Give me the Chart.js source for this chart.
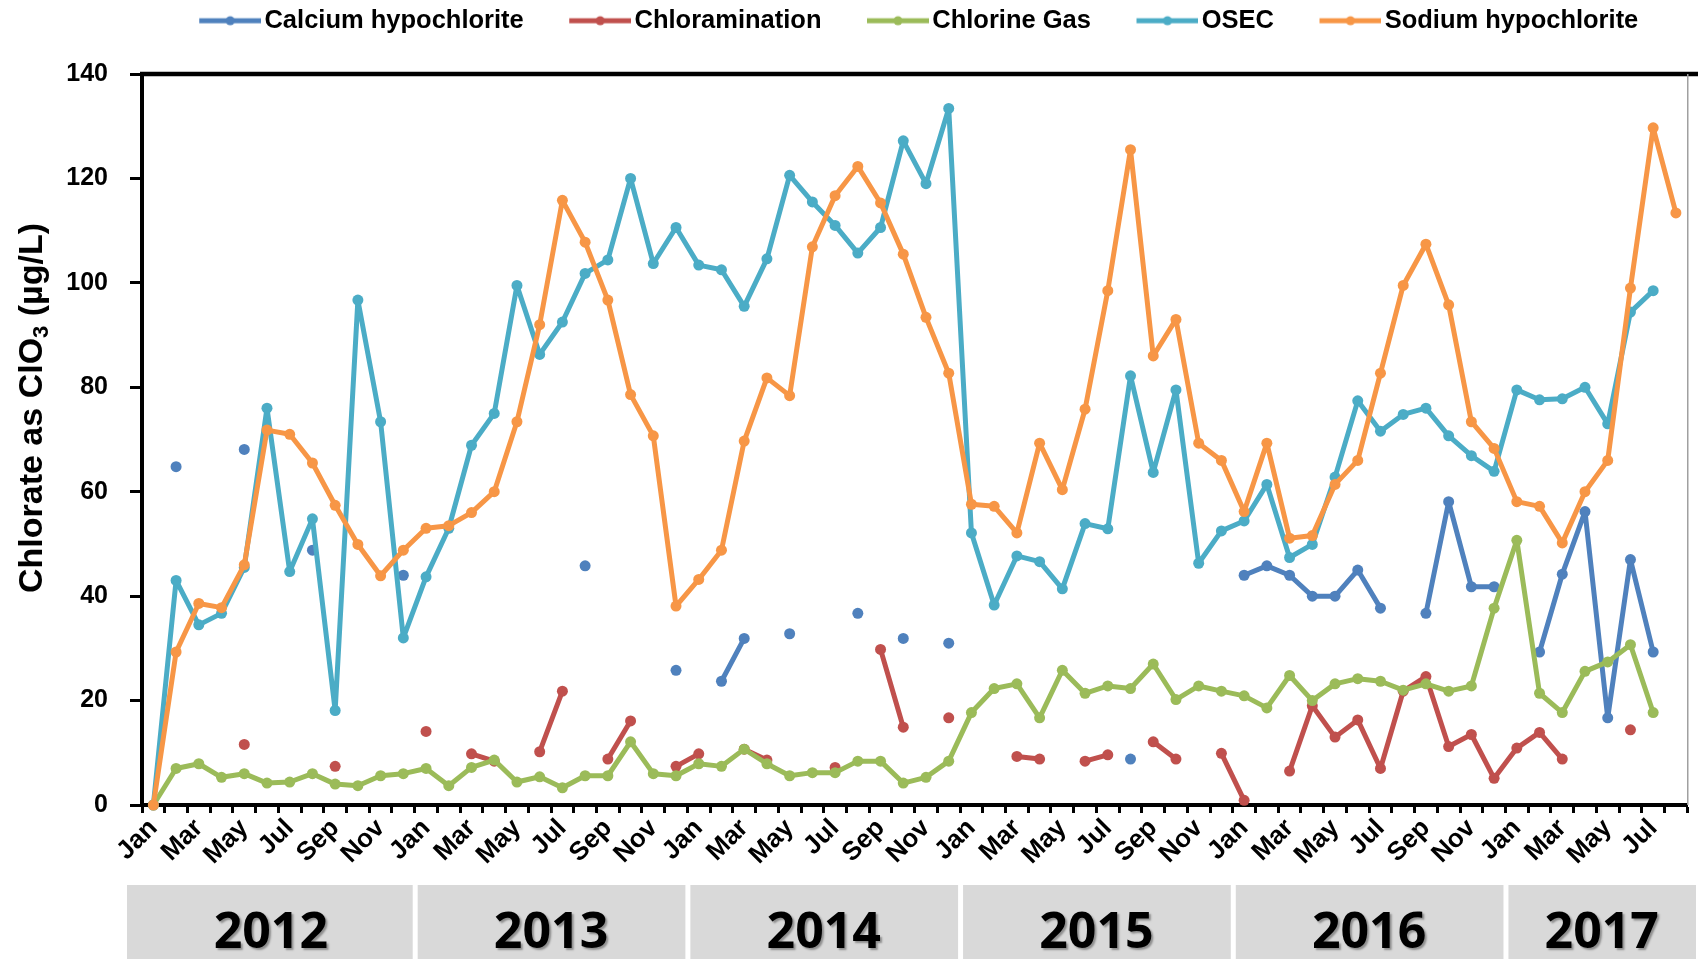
<!DOCTYPE html>
<html>
<head>
<meta charset="utf-8">
<script src="https://cdn.jsdelivr.net/npm/chart.js@4.4.1/dist/chart.umd.min.js"></script>
<style>
  html, body { margin: 0; padding: 0; background: #ffffff; }
  canvas { display: block; }
</style>
</head>
<body>
<canvas id="chart" width="1698" height="959"></canvas>
<script>
// ---- Data -------------------------------------------------------------
const years = ['2012', '2013', '2014', '2015', '2016', '2017'];
const monthNames = ['Jan', 'Feb', 'Mar', 'Apr', 'May', 'Jun', 'Jul', 'Aug', 'Sep', 'Oct', 'Nov', 'Dec'];
const monthsReportedIn2017 = 8;

// Monthly categories, Jan 2012 .. Aug 2017
const categories = years.flatMap((yr, k) =>
  monthNames.slice(0, k === years.length - 1 ? monthsReportedIn2017 : 12).map(m => m + ' ' + yr));

const seriesNames = ['Calcium hypochlorite', 'Chloramination', 'Chlorine Gas', 'OSEC', 'Sodium hypochlorite'];

// Chlorate as ClO3 (µg/L), one value per month; null = no sample
const calciumHypochlorite = [
  null, 64.8, null, null, 68.1, null, null, 48.8, null, null, null, 44.0,
  null, null, null, null, null, null, null, 45.8, null, null, null, 25.8,
  null, 23.7, 31.9, null, 32.8, null, null, 36.7, null, 31.9, null, 31.0,
  null, null, null, null, null, null, null, 8.8, null, null, null, null,
  44.0, 45.8, 44.0, 40.0, 40.0, 45.0, 37.7, null, 36.7, 58.1, 41.8, 41.8,
  null, 29.3, 44.2, 56.2, 16.7, 47.0, 29.3, null
];
const chloramination = [
  null, null, null, null, 11.6, null, null, null, 7.4, null, null, null,
  14.1, null, 9.8, 8.4, null, 10.2, 21.8, null, 8.8, 16.1, null, 7.4,
  9.8, null, 10.7, 8.6, null, null, 7.2, null, 29.8, 14.9, null, 16.7,
  null, null, 9.3, 8.8, null, 8.4, 9.6, null, 12.1, 8.8, null, 9.9,
  0.9, null, 6.5, 19.0, 13.0, 16.3, 7.0, 21.8, 24.6, 11.2, 13.5, 5.1,
  10.9, 13.9, 8.8, null, null, 14.4, null, null
];
const chlorineGas = [
  0, 7.0, 7.9, 5.3, 6.0, 4.2, 4.4, 6.0, 4.0, 3.7, 5.6, 6.0,
  7.0, 3.7, 7.2, 8.6, 4.4, 5.4, 3.3, 5.6, 5.6, 12.1, 6.0, 5.6,
  7.9, 7.4, 10.7, 7.9, 5.6, 6.2, 6.2, 8.4, 8.4, 4.2, 5.3, 8.4,
  17.7, 22.3, 23.2, 16.7, 25.8, 21.4, 22.8, 22.3, 27.0, 20.2, 22.8, 21.8,
  20.9, 18.6, 24.8, 20.0, 23.2, 24.2, 23.7, 22.0, 23.2, 21.8, 22.8, 37.7,
  50.7, 21.4, 17.7, 25.6, 27.4, 30.7, 17.7, null
];
const osec = [
  0, 43.0, 34.5, 36.7, 45.5, 76.0, 44.7, 54.8, 18.1, 96.7, 73.4, 32.0,
  43.7, 53.0, 68.9, 75.0, 99.5, 86.3, 92.5, 101.8, 104.4, 120.0, 103.7, 110.6,
  103.4, 102.5, 95.5, 104.6, 120.6, 115.5, 111.0, 105.7, 110.6, 127.2, 119.0, 133.4,
  52.1, 38.3, 47.7, 46.6, 41.4, 53.9, 52.9, 82.2, 63.7, 79.5, 46.3, 52.5,
  54.4, 61.4, 47.4, 49.9, 62.8, 77.4, 71.6, 74.8, 76.0, 70.7, 66.9, 63.9,
  79.5, 77.6, 77.8, 80.0, 73.0, 94.4, 98.5, null
];
const sodiumHypochlorite = [
  0, 29.3, 38.6, 37.8, 46.0, 71.8, 71.0, 65.5, 57.4, 49.9, 43.9, 48.8,
  53.0, 53.5, 56.0, 60.0, 73.4, 92.0, 115.8, 107.8, 96.7, 78.6, 70.7, 38.1,
  43.2, 48.8, 69.7, 81.8, 78.4, 106.9, 116.7, 122.3, 115.3, 105.5, 93.4, 82.7,
  57.6, 57.2, 52.1, 69.3, 60.4, 75.8, 98.5, 125.5, 86.0, 93.0, 69.3, 66.0,
  56.2, 69.3, 51.1, 51.6, 61.4, 66.0, 82.7, 99.5, 107.4, 95.8, 73.4, 68.3,
  58.1, 57.2, 50.2, 60.0, 66.0, 99.0, 129.7, 113.4
];

const yTicks = { min: 0, max: 140, step: 20 };
const yTitle = { main: 'Chlorate as ClO', sub: '3', tail: ' (\u00b5g/L)' };

// ---- Styling ----------------------------------------------------------
const seriesValues = [calciumHypochlorite, chloramination, chlorineGas, osec, sodiumHypochlorite];
const seriesColors = ['#4F81BD', '#C0504D', '#9BBB59', '#4BACC6', '#F79646'];
const FONT = "'Liberation Sans', Arial, sans-serif";

Chart.defaults.font.family = FONT;
Chart.defaults.color = '#000';

// Legend key: a short line with a marker in its middle
function legendKey(color) {
  const w = 113, h = 14, len = 62;
  const c = document.createElement('canvas');
  c.width = w; c.height = h;
  const g = c.getContext('2d');
  g.strokeStyle = color;
  g.lineWidth = 5;
  g.beginPath(); g.moveTo(w - len, h / 2); g.lineTo(w, h / 2); g.stroke();
  g.fillStyle = color;
  g.beginPath(); g.arc(w - len / 2, h / 2, 4.5, 0, Math.PI * 2); g.fill();
  return c;
}
const legendKeys = seriesColors.map(legendKey);

// Fixed legend band height so the plot frame starts below it; small nudge of the row
const legendBand = {
  id: 'legendBand',
  beforeLayout(chart) {
    const lg = chart.legend;
    if (lg && !lg._bandFixed) {
      const fit = lg.fit;
      lg.fit = function () { fit.call(this); this.height = 74; };
      const draw = lg.draw;
      lg.draw = function () {
        const c = this.ctx;
        c.save(); c.translate(22, 4); draw.call(this); c.restore();
      };
      lg._bandFixed = true;
    }
  }
};

// Frame edges, rotated y title with subscript, and the year table
const decorations = {
  id: 'decorations',
  afterDraw(chart) {
    const { ctx, chartArea: a } = chart;
    const xs = chart.scales.x;
    ctx.save();

    // top and right edges of the plot frame
    ctx.strokeStyle = '#000';
    ctx.lineWidth = 4.5;
    ctx.beginPath(); ctx.moveTo(a.left - 2, a.top); ctx.lineTo(chart.width, a.top); ctx.stroke();
    ctx.strokeStyle = '#a0a0a0';
    ctx.lineWidth = 1.5;
    ctx.beginPath(); ctx.moveTo(a.right + 0.5, a.top); ctx.lineTo(a.right + 0.5, a.bottom); ctx.stroke();

    // y axis title
    ctx.save();
    ctx.translate(42, 408);
    ctx.rotate(-Math.PI / 2);
    ctx.fillStyle = '#000';
    ctx.textBaseline = 'alphabetic';
    ctx.textAlign = 'left';
    const big = 'bold 34px ' + FONT, small = 'bold 22px ' + FONT;
    ctx.font = big; const w1 = ctx.measureText(yTitle.main).width; const w3 = ctx.measureText(yTitle.tail).width;
    ctx.font = small; const w2 = ctx.measureText(yTitle.sub).width;
    const x0 = -(w1 + w2 + w3) / 2;
    ctx.font = big; ctx.fillText(yTitle.main, x0, 0);
    ctx.font = small; ctx.fillText(yTitle.sub, x0 + w1, 6);
    ctx.font = big; ctx.fillText(yTitle.tail, x0 + w1 + w2, 0);
    ctx.restore();

    // year table under the month labels
    const step = xs.getPixelForValue(1) - xs.getPixelForValue(0);
    const top = 885, bottom = chart.height;
    years.forEach((yr, k) => {
      const i0 = 12 * k;
      const i1 = Math.min(12 * k + 11, categories.length - 1);
      let left = xs.getPixelForValue(i0) - step / 2;
      let right = xs.getPixelForValue(i1) + step / 2;
      if (k === 0) left -= 15;
      if (k === years.length - 1) right = chart.width;
      ctx.fillStyle = '#d9d9d9';
      ctx.fillRect(left + (k ? 3 : 0), top, right - left - (k ? 3 : 0) - 2, bottom - top);
      ctx.save();
      ctx.shadowColor = 'rgba(0,0,0,0.35)';
      ctx.shadowOffsetX = 2; ctx.shadowOffsetY = 2; ctx.shadowBlur = 2;
      ctx.fillStyle = '#000';
      ctx.font = "bold 50px 'Open Sans', sans-serif";
      ctx.textAlign = 'center';
      ctx.textBaseline = 'middle';
      ctx.fillText(yr, (left + right) / 2, 934);
      ctx.restore();
    });
    ctx.restore();
  }
};

const datasets = seriesNames.map((name, i) => ({
  label: name,
  data: seriesValues[i],
  borderColor: seriesColors[i],
  backgroundColor: seriesColors[i],
  pointBackgroundColor: seriesColors[i],
  pointBorderColor: seriesColors[i],
  pointBorderWidth: 0,
  pointRadius: 5.5,
  borderWidth: 5,
  borderJoinStyle: 'round',
  borderCapStyle: 'round',
  tension: 0,
  spanGaps: false,
  clip: false,
  order: seriesNames.length - 1 - i
}));

new Chart(document.getElementById('chart'), {
  type: 'line',
  data: { labels: categories, datasets },
  options: {
    responsive: false,
    animation: false,
    devicePixelRatio: 1,
    events: [],
    layout: { padding: { left: 56, right: 2, top: 0, bottom: 0 } },
    plugins: {
      tooltip: { enabled: false },
      legend: {
        position: 'top',
        labels: {
          usePointStyle: true,
          pointStyleWidth: 94,
          padding: 4,
          color: '#000',
          font: { size: 25.5, weight: 'bold' },
          sort: (a, b) => a.datasetIndex - b.datasetIndex,
          generateLabels(chart) {
            const items = Chart.defaults.plugins.legend.labels.generateLabels(chart);
            items.forEach(it => { it.pointStyle = legendKeys[it.datasetIndex]; });
            return items;
          }
        }
      }
    },
    scales: {
      x: {
        type: 'category',
        offset: true,
        grid: { offset: true, drawOnChartArea: false, tickLength: 8, tickWidth: 3, tickColor: '#000' },
        border: { color: '#000', width: 4 },
        ticks: {
          autoSkip: false,
          minRotation: 45,
          maxRotation: 45,
          padding: 0,
          color: '#000',
          font: { size: 26, weight: 'bold' },
          callback(value, index) { return index % 2 === 0 ? monthNames[index % 12] : ''; }
        },
        afterFit(scale) { scale.height = 154; }
      },
      y: {
        min: yTicks.min,
        max: yTicks.max,
        ticks: { stepSize: yTicks.step, padding: 22, color: '#000', font: { size: 25, weight: 'bold' } },
        grid: { drawOnChartArea: false, tickLength: 12, tickWidth: 3, tickColor: '#000' },
        border: { color: '#000', width: 4 },
        afterFit(scale) { scale.width = 86; }
      }
    }
  },
  plugins: [legendBand, decorations]
});
</script>
</body>
</html>
